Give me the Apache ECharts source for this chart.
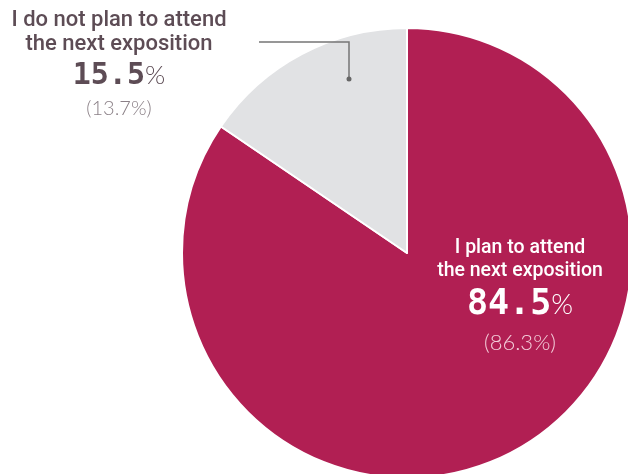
<!DOCTYPE html>
<html>
<head>
<meta charset="utf-8">
<script src="https://cdn.jsdelivr.net/npm/echarts@6/dist/echarts.min.js"></script>
<style>
  html, body { margin: 0; padding: 0; background: #fff; }
  #chart { width: 628px; height: 474px; }
</style>
</head>
<body>
<div id="chart"></div>
<script>
// Survey answers: share of respondents (current) and previous edition in brackets
const answers = ['I plan to attend\nthe next exposition', 'I do not plan to attend\nthe next exposition'];
const shares = [84.5, 15.5];
const previousShares = [86.3, 13.7];
const sliceColors = ['#b11f53', '#e1e2e4'];

const CX = 407, CY = 253, R = 225;

const chart = echarts.init(document.getElementById('chart'), null, { renderer: 'canvas' });

function labelText(i) {
  const lines = answers[i].split('\n').map(l => '{n|' + l + '}').join('\n');
  return lines + '\n{v|' + shares[i].toFixed(1) + '}{p|%}\n{s|(' + previousShares[i].toFixed(1) + '%)}';
}

const nameFont = 'Roboto, "Noto Sans", sans-serif';
const monoFont = '"DejaVu Sans Mono", "Liberation Mono", monospace';
const lightFont = 'Lato, Roboto, sans-serif';

const richInside = {
  n: { fontFamily: nameFont, fontSize: 19.5, fontWeight: 500, color: '#ffffff', lineHeight: 23, align: 'center' },
  v: { fontFamily: monoFont, fontSize: 35, fontWeight: 'bold', color: '#ffffff', lineHeight: 44 },
  p: { fontFamily: lightFont, fontSize: 28, fontWeight: 300, color: '#ffffff', lineHeight: 44 },
  s: { fontFamily: lightFont, fontSize: 22, fontWeight: 300, color: '#f3cdd9', lineHeight: 32, align: 'center' }
};
const richOutside = {
  n: { fontFamily: nameFont, fontSize: 22, fontWeight: 500, color: '#5d4c55', lineHeight: 24, align: 'center' },
  v: { fontFamily: monoFont, fontSize: 30, fontWeight: 'bold', color: '#5d4c55', lineHeight: 40 },
  p: { fontFamily: lightFont, fontSize: 26, fontWeight: 300, color: '#5d4c55', lineHeight: 40 },
  s: { fontFamily: lightFont, fontSize: 20, fontWeight: 300, color: '#8b8087', lineHeight: 26, align: 'center' }
};

const labelSpots = [
  { x: 520, y: 237 },
  { x: 119, y: 8 }
];

// leader line for the small slice, from a dot inside it to the label
const dot = [349, 79];
const elbowY = 42;
const lineEndX = 259;

chart.setOption({
  animation: false,
  backgroundColor: '#ffffff',
  series: [{
    type: 'pie',
    center: [CX, CY],
    radius: R,
    startAngle: 90,
    clockwise: true,
    silent: true,
    itemStyle: { borderColor: '#ffffff', borderWidth: 2 },
    labelLine: { show: false },
    label: {
      show: true,
      position: 'inside',
      formatter: p => labelText(p.dataIndex)
    },
    labelLayout: p => ({
      x: labelSpots[p.dataIndex].x,
      y: labelSpots[p.dataIndex].y,
      align: 'center',
      verticalAlign: 'top'
    }),
    data: shares.map((v, i) => ({
      name: answers[i],
      value: v,
      itemStyle: { color: sliceColors[i] },
      label: { rich: i === 0 ? richInside : richOutside, align: 'center' }
    }))
  }],
  graphic: [
    {
      type: 'polyline',
      shape: { points: [[lineEndX, elbowY], [dot[0], elbowY], dot] },
      style: { stroke: '#767676', lineWidth: 1.5, fill: null },
      z: 10
    },
    {
      type: 'circle',
      shape: { cx: dot[0], cy: dot[1], r: 2.5 },
      style: { fill: '#666666' },
      z: 10
    }
  ]
});
</script>
</body>
</html>
